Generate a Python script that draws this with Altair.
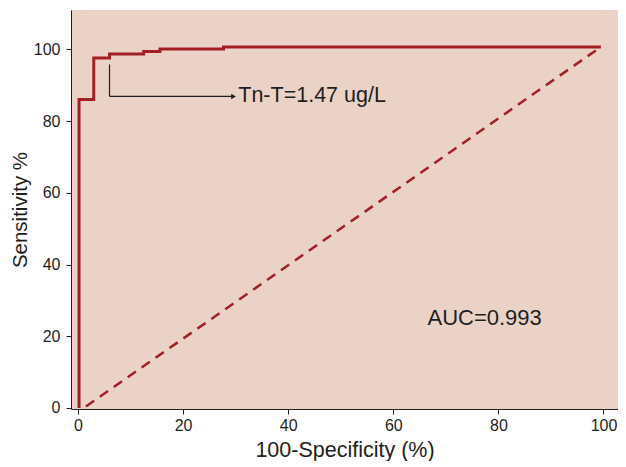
import altair as alt
import pandas as pd

# ROC step curve (100-Specificity %, Sensitivity %)
roc_x = [0.2, 0.2, 3.0, 6.0, 12.5, 15.6, 27.7, 99.5]
roc_y = [0.0, 86.0, 97.6, 98.7, 99.4, 100.1, 100.7, 100.7]

# Reference diagonal
diag_x = [1.5, 99.5]
diag_y = [0.4, 100.7]

# Annotation
ann_vx = [6.0]
ann_vy = [95.8]
ann_vy2 = [86.9]
ann_hx = [6.0]
ann_hx2 = [29.6]
ann_label = ["Tn-T=1.47 ug/L"]
ann_text_x = [30.5]
auc_label = ["AUC=0.993"]
auc_x = [66.5]
auc_y = [25.1]

x_ticks = [0, 20, 40, 60, 80, 100]
y_ticks = [0, 20, 40, 60, 80, 100]

RED = "#A31F26"
INK = "#1e1e1e"
FONT = "Liberation Sans"

roc = pd.DataFrame({"x": roc_x, "y": roc_y, "o": list(range(len(roc_x)))})
diag = pd.DataFrame({"x": diag_x, "y": diag_y})
vline = pd.DataFrame({"x": ann_vx, "y": ann_vy, "y2": ann_vy2})
hline = pd.DataFrame({"x": ann_hx, "x2": ann_hx2, "y": ann_vy2})
arrow = pd.DataFrame({"x": ann_hx2, "y": ann_vy2})
ann = pd.DataFrame({"x": ann_text_x, "y": ann_vy2, "t": ann_label})
auc = pd.DataFrame({"x": auc_x, "y": auc_y, "t": auc_label})

xs = alt.Scale(domain=[-1.33, 102.76], nice=False, zero=False)
ys = alt.Scale(domain=[-0.3, 111], nice=False, zero=False)

xaxis = alt.Axis(values=x_ticks, title="100-Specificity (%)", grid=False,
                 labelFontSize=16, titleFontSize=21.5, labelPadding=3,
                 titlePadding=6, tickSize=5, domainColor=INK, tickColor=INK,
                 labelColor=INK, titleColor=INK, titleFontWeight="normal",
                 labelFont=FONT, titleFont=FONT, labelFlush=False)
yaxis = alt.Axis(values=y_ticks, title="Sensitivity %", grid=False,
                 labelFontSize=16, titleFontSize=20.5, labelPadding=6,
                 titlePadding=3, tickSize=5, domainColor=INK, tickColor=INK,
                 labelColor=INK, titleColor=INK, titleFontWeight="normal",
                 labelFont=FONT, titleFont=FONT, labelFlush=False)

base_roc = alt.Chart(roc).mark_line(color=RED, strokeWidth=3, interpolate="step-after").encode(
    x=alt.X("x:Q", scale=xs, axis=xaxis),
    y=alt.Y("y:Q", scale=ys, axis=yaxis),
    order="o:Q",
)

diag_line = alt.Chart(diag).mark_line(color=RED, strokeWidth=2.5, strokeDash=[10, 7]).encode(
    x=alt.X("x:Q", scale=xs), y=alt.Y("y:Q", scale=ys)
)

v = alt.Chart(vline).mark_rule(color=INK, strokeWidth=1.2).encode(
    x=alt.X("x:Q", scale=xs), y=alt.Y("y:Q", scale=ys), y2="y2:Q"
)
h = alt.Chart(hline).mark_rule(color=INK, strokeWidth=1.2).encode(
    x=alt.X("x:Q", scale=xs), x2="x2:Q", y=alt.Y("y:Q", scale=ys)
)
a = alt.Chart(arrow).mark_point(shape="triangle-right", filled=True, color=INK, size=30, opacity=1).encode(
    x=alt.X("x:Q", scale=xs), y=alt.Y("y:Q", scale=ys)
)
t1 = alt.Chart(ann).mark_text(align="left", baseline="middle", fontSize=21.5, font=FONT, color=INK).encode(
    x=alt.X("x:Q", scale=xs), y=alt.Y("y:Q", scale=ys), text="t:N"
)
t2 = alt.Chart(auc).mark_text(align="left", baseline="middle", fontSize=22, font=FONT, color=INK).encode(
    x=alt.X("x:Q", scale=xs), y=alt.Y("y:Q", scale=ys), text="t:N"
)

chart = alt.layer(diag_line, base_roc, v, h, a, t1, t2).properties(
    width=547, height=399,
    autosize=alt.AutoSizeParams(type="none"),
    padding={"left": 63, "top": 2, "right": 0, "bottom": 52},
    background="white",
).configure_view(fill="#EBD2C6", stroke=None)

chart.save("out.html", embed_options={"renderer": "svg", "actions": False})
